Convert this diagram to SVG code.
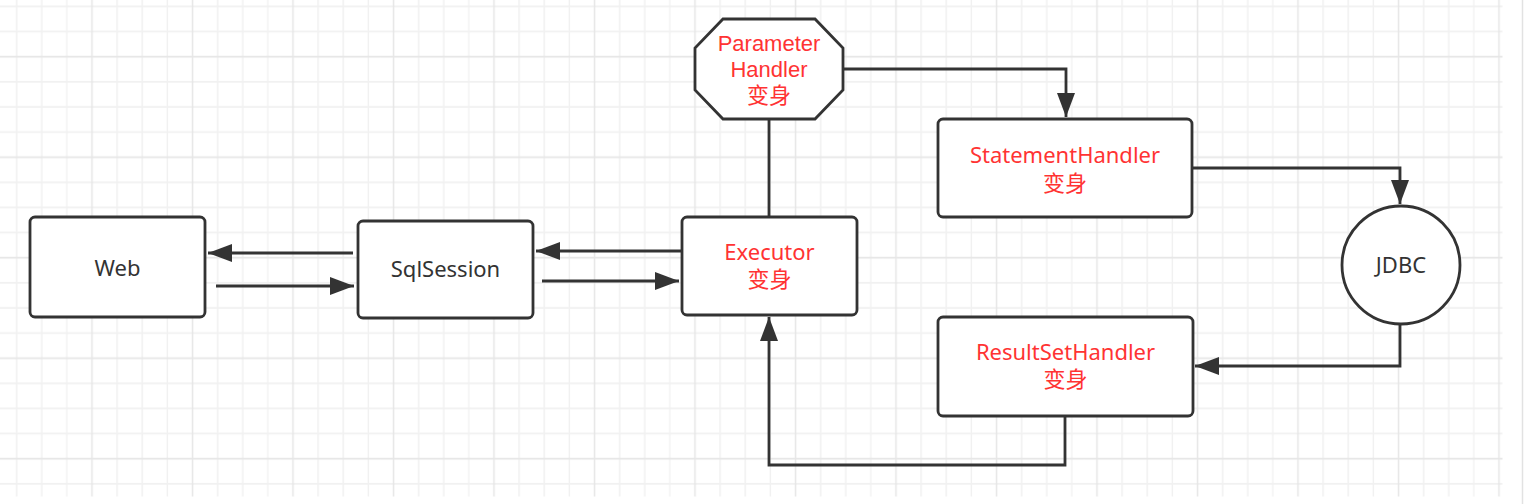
<svg xmlns="http://www.w3.org/2000/svg" width="1524" height="504" viewBox="0 0 1524 504">
<style>
.node{fill:#ffffff;stroke:#333333;stroke-width:2.8}
.conn{fill:none;stroke:#333333;stroke-width:2.8}
.t{font-family:"Noto Sans","Noto Sans CJK SC",sans-serif;font-size:22px;text-anchor:middle}
.tc{font-family:"Liberation Sans","Noto Sans CJK SC",sans-serif;font-size:22px;text-anchor:middle}
.dark{fill:#333333}
.red{fill:#ff3333}
.minor{stroke:#f1f1f1;stroke-width:1.5}
.major{stroke:#e6e6e6;stroke-width:1.5}
</style>
<defs>
<pattern id="grid" patternUnits="userSpaceOnUse" x="79.44" y="44.14" width="100.5" height="100.5">
<line class="minor" x1="37.69" y1="0" x2="37.69" y2="100.5"/>
<line class="minor" x1="62.81" y1="0" x2="62.81" y2="100.5"/>
<line class="minor" x1="87.94" y1="0" x2="87.94" y2="100.5"/>
<line class="minor" x1="0" y1="37.69" x2="100.5" y2="37.69"/>
<line class="minor" x1="0" y1="62.81" x2="100.5" y2="62.81"/>
<line class="minor" x1="0" y1="87.94" x2="100.5" y2="87.94"/>
<line class="major" x1="12.56" y1="0" x2="12.56" y2="100.5"/>
<line class="major" x1="0" y1="12.56" x2="100.5" y2="12.56"/>
</pattern>
<marker id="arrow" markerUnits="userSpaceOnUse" markerWidth="26" markerHeight="20" refX="24" refY="9" orient="auto">
<path d="M0,0 L24,9 L0,18 Z" fill="#333333"/>
</marker>
</defs>
<rect x="0" y="0" width="1524" height="504" fill="#ffffff"/>
<rect x="0" y="0" width="1502.5" height="496.5" fill="url(#grid)"/>
<line x1="1522.5" y1="0" x2="1522.5" y2="504" stroke="#e2e2e2" stroke-width="1.5"/>

<g id="connectors">
<path class="conn" d="M353,253 L208,253" marker-end="url(#arrow)"/>
<path class="conn" d="M216,286 L354,286" marker-end="url(#arrow)"/>
<path class="conn" d="M682,251 L536,251" marker-end="url(#arrow)"/>
<path class="conn" d="M542,281 L679,281" marker-end="url(#arrow)"/>
<path class="conn" d="M769,119 L769,217"/>
<path class="conn" d="M843,69 L1066,69 L1066,117" marker-end="url(#arrow)"/>
<path class="conn" d="M1193,168 L1400,168 L1400,204" marker-end="url(#arrow)"/>
<path class="conn" d="M1400,324 L1400,366 L1195,366" marker-end="url(#arrow)"/>
<path class="conn" d="M1065,416 L1065,465 L769,465 L769,317" marker-end="url(#arrow)"/>
</g>

<g id="web">
<rect class="node" x="30" y="217" width="175" height="100" rx="5"/>
<text class="t dark" x="117.5" y="276">Web</text>
</g>
<g id="sqlsession">
<rect class="node" x="358" y="221" width="175" height="97" rx="5"/>
<text class="t dark" x="445.5" y="277">SqlSession</text>
</g>
<g id="executor">
<rect class="node" x="682" y="217" width="175" height="98" rx="5"/>
<text class="t red" x="769.5" y="260">Executor<tspan x="769.5" dy="27">变身</tspan></text>
</g>
<g id="parameterhandler">
<polygon class="node" points="723,19 815,19 843,48 843,90 815,119 723,119 695,90 695,48"/>
<text class="tc red" x="769" y="51">Parameter<tspan x="769" dy="26">Handler</tspan><tspan x="769" dy="26">变身</tspan></text>
</g>
<g id="statementhandler">
<rect class="node" x="938" y="119" width="254" height="98" rx="5"/>
<text class="t red" x="1065" y="163">StatementHandler<tspan x="1065" dy="27.5">变身</tspan></text>
</g>
<g id="jdbc">
<circle class="node" cx="1401" cy="265" r="59"/>
<text class="t dark" x="1401" y="273">JDBC</text>
</g>
<g id="resultsethandler">
<rect class="node" x="938" y="317" width="255" height="99" rx="5"/>
<text class="t red" x="1065.5" y="360">ResultSetHandler<tspan x="1065.5" dy="27">变身</tspan></text>
</g>
</svg>
